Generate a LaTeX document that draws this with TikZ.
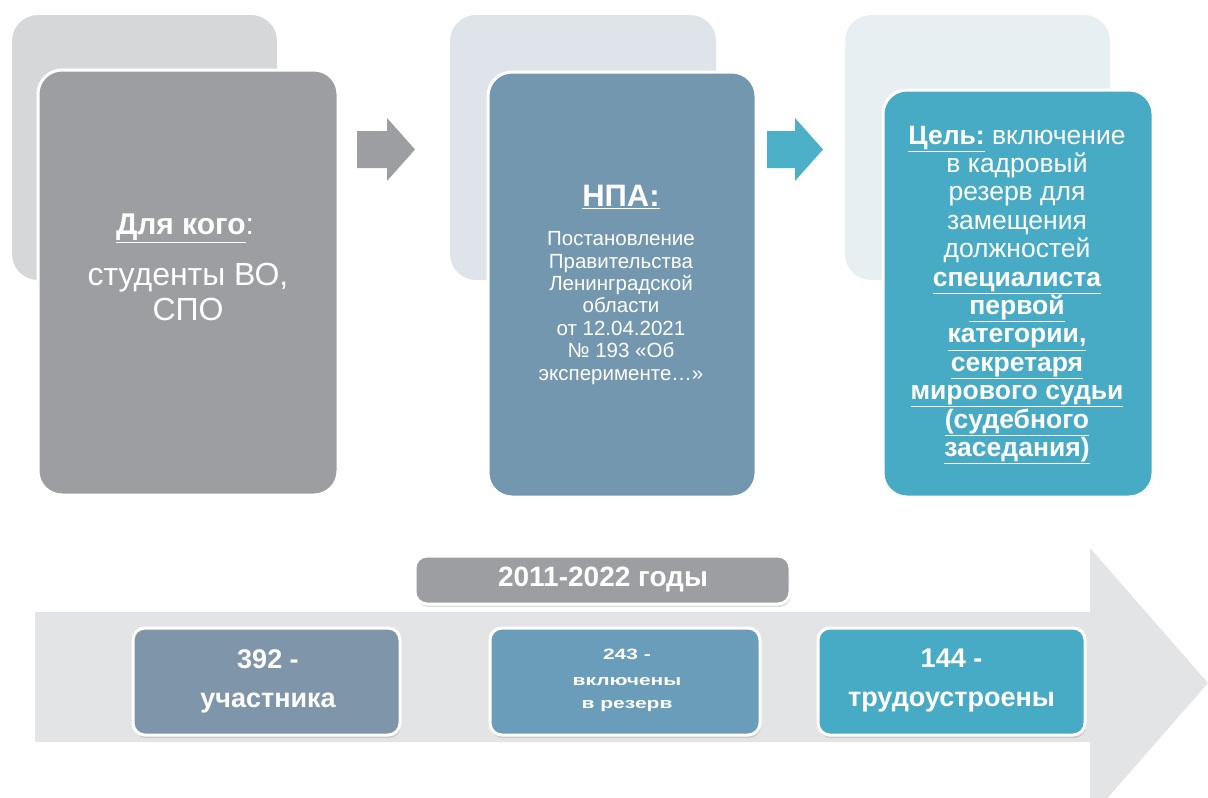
\documentclass[tikz,border=0pt]{standalone}
\usepackage{fontspec}
\usepackage{graphicx}
\setmainfont{Liberation Sans}
\usetikzlibrary{shadows}
\definecolor{backA}{HTML}{D6D7D9}
\definecolor{frontA}{HTML}{9D9EA2}
\definecolor{backB}{HTML}{DFE3EA}
\definecolor{frontB}{HTML}{7497B0}
\definecolor{backC}{HTML}{E8EFF3}
\definecolor{frontC}{HTML}{47ABC5}
\definecolor{arrowC}{HTML}{4BB0C8}
\definecolor{bigarrow}{HTML}{E3E4E6}
\definecolor{statA}{HTML}{7F95A9}
\definecolor{statB}{HTML}{6A9DBA}
\definecolor{statC}{HTML}{47ABC5}
\begin{document}
\begin{tikzpicture}[x=1pt,y=-1pt,
  backbox/.style={rounded corners=26pt},
  frontbox/.style={draw=white,line width=3pt,rounded corners=24pt},
  statbox/.style={draw=white,line width=3pt,rounded corners=12pt,
     drop shadow={opacity=0.25,shadow xshift=1pt,shadow yshift=-3pt}},
  lbl/.style={text=white,align=center,inner sep=0pt},
  blockarrow/.style={draw=none}
]
\useasboundingbox (0,0) rectangle (1208,798);
\clip (0,0) rectangle (1208,798);

% ---------- group 1
\fill[backA,backbox] (12,15) rectangle (277,280);
\node[frontbox,fill=frontA,minimum width=300pt,minimum height=425pt] (boxA) at (188,282.5) {};
\node[lbl,font=\fontsize{30}{34}\selectfont] (tA) at (185,228) {\textbf{\underline{Для кого}}:};
\node[lbl,font=\fontsize{32}{35}\selectfont] (tA2) at (188,292) {студенты ВО,\\СПО};

% arrow 1
\fill[frontA,blockarrow] (357,131) -- (387,131) -- (387,118) -- (415,149.5) -- (387,181) -- (387,168) -- (357,168) -- cycle;

% ---------- group 2
\fill[backB,backbox] (450,15) rectangle (716,280);
\node[frontbox,fill=frontB,minimum width=268pt,minimum height=425pt] (boxB) at (622,284.5) {};
\node[lbl,font=\bfseries\fontsize{31}{34}\selectfont] (tB) at (621,197) {\underline{НПА:}};
\node[lbl,font=\fontsize{20.5}{22.4}\selectfont] (tB2) at (621,308) {Постановление\\Правительства\\Ленинградской\\области\\от 12.04.2021\\№ 193 «Об\\эксперименте…»};

% arrow 2
\fill[arrowC,blockarrow] (767,131) -- (795,131) -- (795,118) -- (823,149.5) -- (795,181) -- (795,168) -- (767,168) -- cycle;

% ---------- group 3
\fill[backC,backbox] (845,15) rectangle (1110,280);
\node[frontbox,fill=frontC,minimum width=270pt,minimum height=407pt] (boxC) at (1018,293.5) {};
\node[lbl,font=\fontsize{26.5}{28.4}\selectfont] (tC) at (1017,295) {\textbf{\underline{Цель:}} включение\\в кадровый\\резерв для\\замещения\\должностей\\\textbf{\underline{специалиста}}\\\textbf{\underline{первой}}\\\textbf{\underline{категории,}}\\\textbf{\underline{секретаря}}\\\textbf{\underline{мирового судьи}}\\\textbf{\underline{(судебного}}\\\textbf{\underline{заседания)}}};

% ---------- timeline arrow
\fill[bigarrow] (35,612) -- (1090,612) -- (1090,548) -- (1208,683) -- (1090,818) -- (1090,742) -- (35,742) -- cycle;

\node[statbox,fill=frontA,minimum width=375pt,minimum height=48pt] (years) at (602.5,580) {};
\node[lbl,font=\bfseries\fontsize{28}{30}\selectfont] (tY) at (603,580) {2011-2022 годы};

\node[statbox,fill=statA,minimum width=267pt,minimum height=107pt] (s1) at (266.5,681.5) {};
\node[lbl,font=\bfseries\fontsize{27}{39}\selectfont] (ts1) at (268,681) {392 -\\участника};

\node[statbox,fill=statB,minimum width=270pt,minimum height=107pt] (s2) at (625,681.5) {};
\node[lbl,font=\bfseries\fontsize{15}{23}\selectfont] (ts2) at (627,680) {\scalebox{1.4}[1]{243 -}\\[3pt]\scalebox{1.4}[1]{включены}\\\scalebox{1.4}[1]{в резерв}};

\node[statbox,fill=statC,minimum width=267pt,minimum height=107pt] (s3) at (951.5,681.5) {};
\node[lbl,font=\bfseries\fontsize{27}{39}\selectfont] (ts3) at (951.5,681) {144 -\\трудоустроены};
\end{tikzpicture}
\end{document}
